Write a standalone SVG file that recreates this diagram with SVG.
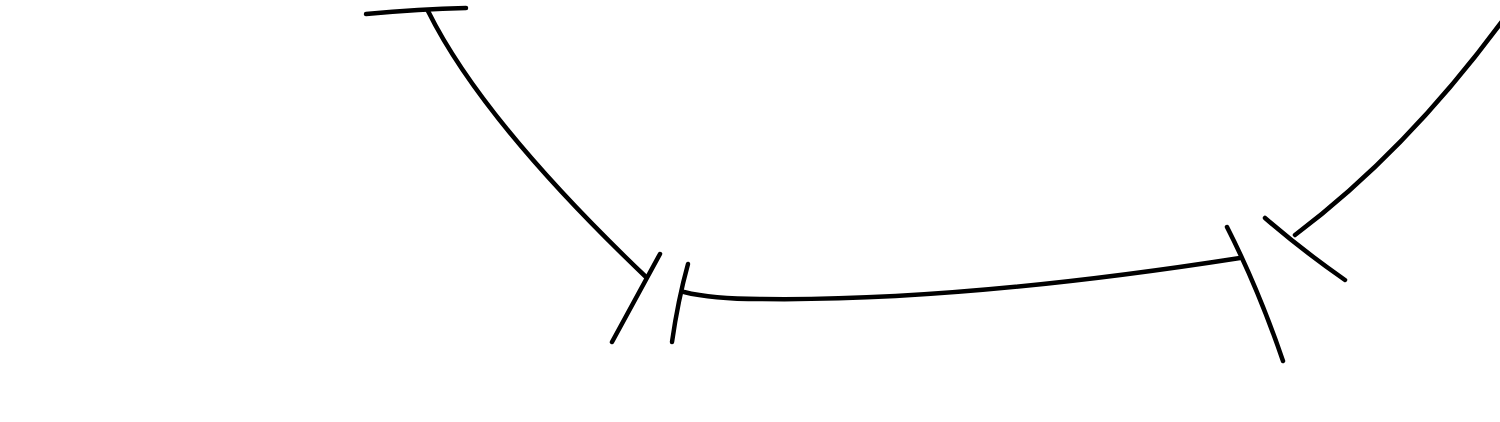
<svg xmlns="http://www.w3.org/2000/svg" width="1500" height="422" viewBox="0 0 1500 422">
<style>
.line{fill:none;stroke:#000;stroke-width:4.5;stroke-linecap:round;stroke-linejoin:round}
.bar{fill:none;stroke:#000;stroke-width:4.5;stroke-linecap:round}
</style>
<rect width="1500" height="422" fill="#fff"/>
<g id="connectors">
<g id="connector-1">
<path class="bar" d="M366,14 Q420,9 466,8"/>
<path class="line" d="M428,11 C472,100 560,195 646,277"/>
<path class="bar" d="M612,342 L660,254"/>
</g>
<g id="connector-2">
<path class="bar" d="M688,264 Q678,300 672,342"/>
<path class="line" d="M684,292 C700,296 720,299 760,299 C900,301 1060,286 1240,258"/>
<path class="bar" d="M1227,227 Q1258,288 1283,361"/>
</g>
<g id="connector-3">
<path class="bar" d="M1265,218 Q1302,250 1345,280"/>
<path class="line" d="M1295,235 Q1408,150 1506,16"/>
</g>
</g>
</svg>
